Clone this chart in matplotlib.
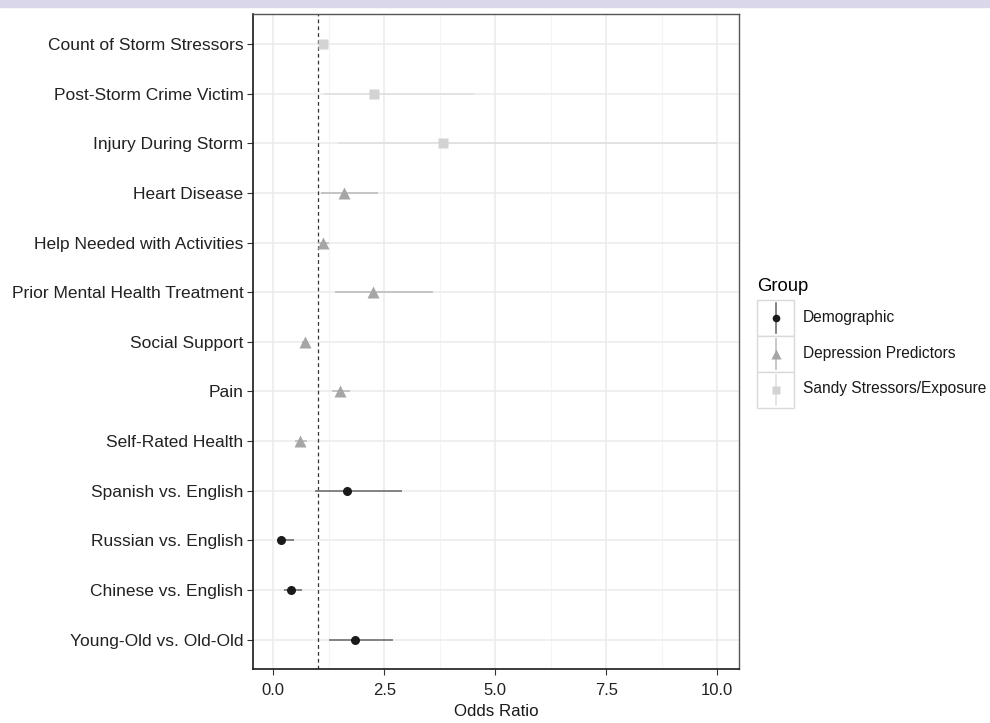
import matplotlib
matplotlib.use('Agg')
from matplotlib import pyplot as plt
from matplotlib.patches import Rectangle

plt.rcParams['font.family'] = ['Liberation Sans', 'DejaVu Sans']

# bottom to top, as drawn
labels = ['Young-Old vs. Old-Old', 'Chinese vs. English', 'Russian vs. English',
          'Spanish vs. English', 'Self-Rated Health', 'Pain', 'Social Support',
          'Prior Mental Health Treatment', 'Help Needed with Activities',
          'Heart Disease', 'Injury During Storm', 'Post-Storm Crime Victim',
          'Count of Storm Stressors']
odds = [1.85, 0.40, 0.18, 1.67, 0.61, 1.50, 0.71, 2.25, 1.12, 1.59, 3.82, 2.27, 1.12]
lower = [1.25, 0.25, 0.08, 0.95, 0.50, 1.32, 0.65, 1.40, 1.01, 1.07, 1.46, 1.15, 1.05]
upper = [2.69, 0.65, 0.47, 2.91, 0.75, 1.73, 0.78, 3.59, 1.26, 2.36, 10.0, 4.52, 1.20]
groups = ['Demographic'] * 4 + ['Depression Predictors'] * 6 + ['Sandy Stressors/Exposure'] * 3

group_names = ['Demographic', 'Depression Predictors', 'Sandy Stressors/Exposure']
point_col = {'Demographic': '#1a1a1a', 'Depression Predictors': '#a6a6a6',
             'Sandy Stressors/Exposure': '#d3d3d3'}
line_col = {'Demographic': '#707070', 'Depression Predictors': '#bdbdbd',
            'Sandy Stressors/Exposure': '#e0e0e0'}
marker = {'Demographic': 'o', 'Depression Predictors': '^', 'Sandy Stressors/Exposure': 's'}
msize = {'Demographic': 6.5, 'Depression Predictors': 8, 'Sandy Stressors/Exposure': 7}


def main():
    fig = plt.figure(figsize=(9.9, 7.23), dpi=100)
    W, H = 990, 723
    # lavender strip at the very top
    fig.patches.append(Rectangle((0, 1 - 7 / H), 1, 7 / H, transform=fig.transFigure,
                                 color='#d9d7e9', zorder=0))

    ax = fig.add_axes([253.3 / W, 1 - 669.3 / H, (739 - 253.3) / W, (669.3 - 14.3) / H])
    n = len(labels)
    ys = list(range(n))

    ax.set_xlim(-0.45, 10.49)
    ax.set_ylim(-0.6, n - 0.4)
    ax.set_xticks([0, 2.5, 5, 7.5, 10], ['0.0', '2.5', '5.0', '7.5', '10.0'])
    ax.set_xticks([1.25, 3.75, 6.25, 8.75], minor=True)
    ax.set_yticks(ys, labels)
    ax.grid(True, which='major', color='#ebebeb', lw=1.1, zorder=0)
    ax.grid(True, which='minor', axis='x', color='#f4f4f4', lw=0.8, zorder=0)
    ax.set_axisbelow(True)
    ax.tick_params(which='major', length=4, width=0.8, color='#333333',
                   labelcolor='#222222', pad=3)
    ax.tick_params(axis='y', labelsize=12.5)
    ax.tick_params(axis='x', labelsize=12, pad=6)
    ax.tick_params(which='minor', length=0)
    for s in ['left', 'bottom']:
        ax.spines[s].set_color('#1a1a1a')
        ax.spines[s].set_linewidth(1.2)
    for s in ['top', 'right']:
        ax.spines[s].set_color('#555555')
        ax.spines[s].set_linewidth(1.0)

    ax.axvline(1, color='#333333', lw=0.9, ls=(0, (3, 2.5)), zorder=2)

    for i in range(n):
        g = groups[i]
        ax.plot([lower[i], upper[i]], [ys[i], ys[i]], color=line_col[g], lw=1.2, zorder=3,
                solid_capstyle='butt')
        ax.plot(odds[i], ys[i], marker=marker[g], color=point_col[g], ms=msize[g],
                mec='none', zorder=4)

    ax.set_xlabel('Odds Ratio', fontsize=12.2, color='#1a1a1a', labelpad=4)

    # legend drawn by hand, ggplot style
    fig.text(757 / W, 1 - 287 / H, 'Group', fontsize=13.3, va='center', ha='left')
    lax = fig.add_axes([757 / W, 1 - 407.5 / H, 37 / W, 107.5 / H])
    lax.set_xlim(0, 1)
    lax.set_ylim(0, 3)
    lax.axis('off')
    for k, g in enumerate(group_names):
        y0 = 2 - k
        lax.add_patch(Rectangle((0, y0), 1, 1, facecolor='white', edgecolor='#d9d9d9',
                                lw=1.0, clip_on=False))
        lax.plot([0.5, 0.5], [y0 + 0.08, y0 + 0.92], color=line_col[g], lw=1.2)
        lax.plot(0.5, y0 + 0.5, marker=marker[g], color=point_col[g], ms=msize[g] - 1,
                 mec='none')
        fig.text(803 / W, 1 - (317.5 + 35.7 * k) / H, g, fontsize=11.2, va='center',
                 ha='left', color='#1a1a1a')

    plt.savefig('out.png', dpi=100)


if __name__ == '__main__':
    main()
